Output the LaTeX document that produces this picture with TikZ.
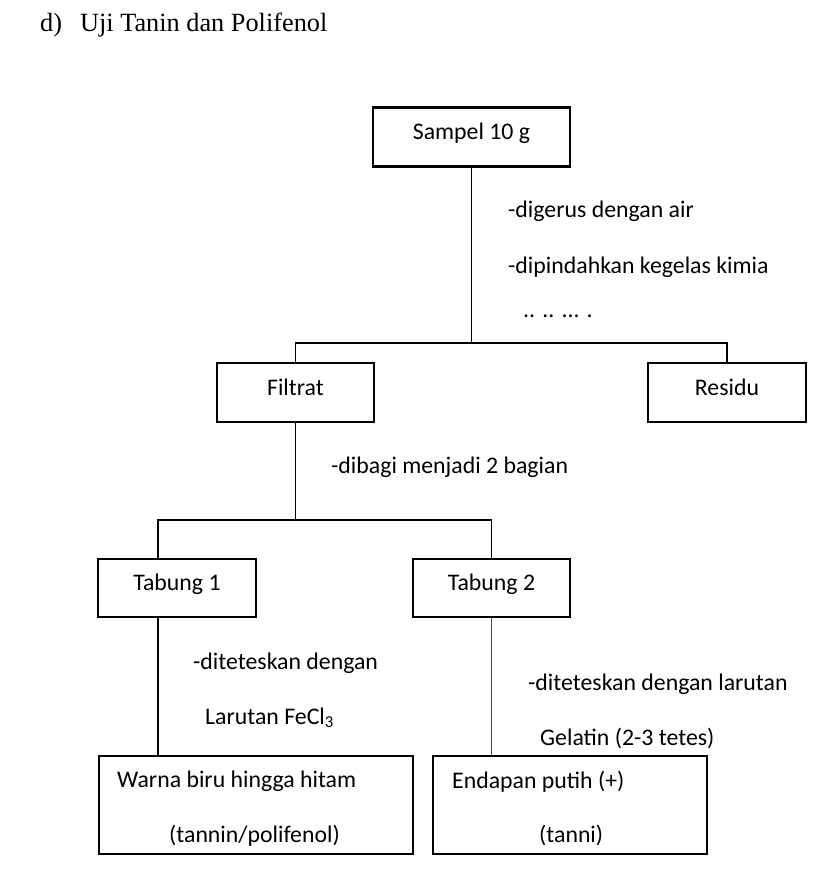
\documentclass[tikz,border=0pt]{standalone}
\usepackage{fontspec}
\setmainfont{Carlito}
\newfontfamily\serifhead{Liberation Serif}
\usetikzlibrary{positioning}

\begin{document}
\begin{tikzpicture}[x=1pt, y=-1pt,
  every node/.style={font=\fontsize{23.8}{28}\selectfont},
  stepbox/.style={draw, line width=2.2pt, inner sep=0pt, minimum width=157pt,
                  minimum height=59pt, text height=15pt, text depth=10pt},
  resultbox/.style={draw, line width=2.2pt, inner sep=0pt, minimum height=98pt},
  note/.style={anchor=base west, inner sep=0pt},
  link/.style={line width=1.5pt},
  thinlink/.style={line width=1pt, draw=black!70}]
\useasboundingbox (0,0) rectangle (831,893);
\node[note, font=\serifhead\fontsize{26.3}{30}\selectfont] (judul) at (40,32) {d)\hspace{18pt}Uji Tanin dan Polifenol};
% boxes
\node[stepbox, minimum width=197pt] (sampel) at (471.5,137) {Sampel 10 g};
\node[stepbox] (filtrat) at (295.5,392.5) {Filtrat};
\node[stepbox, minimum width=158pt] (residu) at (727,392.5) {Residu};
\node[stepbox, minimum width=158pt, minimum height=58pt] (tab1) at (177,588) {Tabung 1};
\node[stepbox, minimum height=58pt] (tab2) at (491.5,588) {Tabung 2};
\node[resultbox, minimum width=314pt] (warna) at (256,805) {};
\node[resultbox, minimum width=274pt] (endapan) at (570,805) {};
% texts
\node[note] (gerus) at (508,218) {-digerus dengan air};
\node[note] (pindah) at (508,273) {-dipindahkan kegelas kimia};
\node[note] (titik) at (523,317) {.. .. ... .};
\node[note] (bagi) at (331,473) {-dibagi menjadi 2 bagian};
\node[note] (tetes1) at (193,669) {-diteteskan dengan};
\node[note] (fecl) at (205,724) {Larutan FeCl\textsubscript{3}};
\node[note] (tetes2) at (528,690) {-diteteskan dengan larutan};
\node[note] (gelatin) at (540,745) {Gelatin (2-3 tetes)};
\node[note] (warna1) at (117,787) {Warna biru hingga hitam};
\node[note] (warna2) at (169,842) {(tannin/polifenol)};
\node[note] (endap1) at (452,788) {Endapan putih (+)};
\node[note] (endap2) at (539,842) {(tanni)};
% connectors
\coordinate (fork1) at (471.5,343);
\coordinate (fork2) at (295.5,520);
\coordinate (t1) at ([xshift=-19pt]tab1.south);
\draw[link] (sampel.south) -- (fork1);
\draw[link] (filtrat.north) |- (fork1) -| (residu.north);
\draw[link] (filtrat.south) -- (fork2);
\draw[link] ([xshift=-19pt]tab1.north) |- (fork2) -| (tab2.north);
\draw[link] (t1) -- (t1 |- warna.north);
\draw[thinlink] (tab2.south) -- (tab2.south |- endapan.north);
\end{tikzpicture}
\end{document}
